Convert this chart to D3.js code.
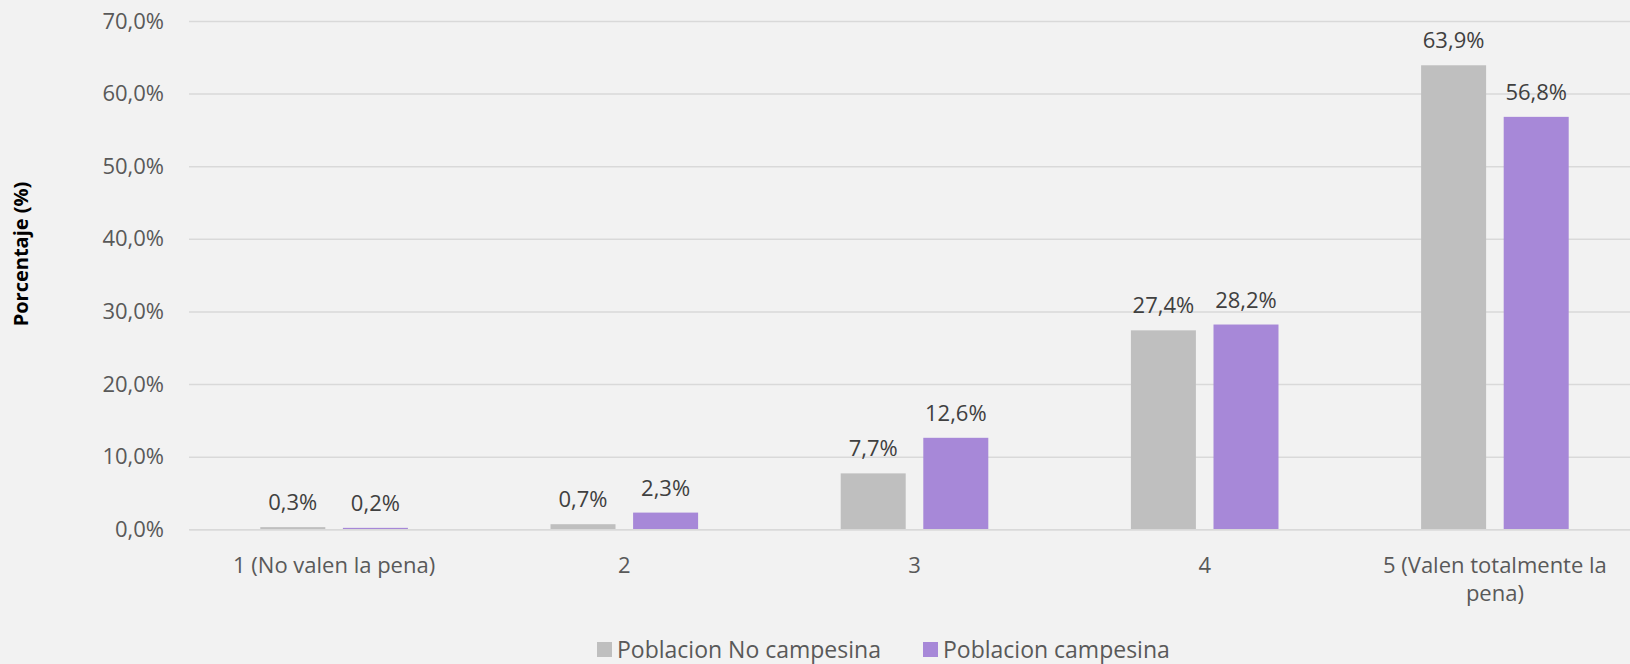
<!DOCTYPE html>
<html><head><meta charset="utf-8">
<script src="https://cdn.jsdelivr.net/npm/d3@7"></script>
<style>
html,body{margin:0;padding:0;background:#f2f2f2;}
svg{display:block;}
text{font-family:"Segoe UI","Open Sans","Noto Sans",sans-serif;}
</style></head>
<body>
<svg id="chart" width="1630" height="664"></svg>
<script>
const categories = ["1 (No valen la pena)", "2", "3", "4", "5 (Valen totalmente la pena)"];
const seriesNames = ["Poblacion No campesina", "Poblacion campesina"];
const noCampesina = [0.3, 0.7, 7.7, 27.4, 63.9];
const campesina = [0.2, 2.3, 12.6, 28.2, 56.8];
const yTicks = [0, 10, 20, 30, 40, 50, 60, 70];
const yTitle = "Porcentaje (%)";
const colors = ["#bfbfbf", "#a788d8"];

(function(){
const fmt = v => d3.format(".1f")(v).replace(".", ",") + "%";

const svg = d3.select("#chart");
svg.append("rect").attr("width",1630).attr("height",664).attr("fill","#f2f2f2");

const pLeft = 189, pRight = 1640, pTop = 21, pBottom = 529.3;
const x0 = d3.scaleBand().domain(categories).range([pLeft, pRight]).padding(0);
const step = x0.bandwidth();
const x1 = d3.scaleBand().domain(seriesNames).range([71.3, step - 71.3]).paddingInner(0.213).paddingOuter(0);
const y = d3.scaleLinear().domain([0, 70]).range([pBottom, pTop]);

const yAxis = d3.axisLeft(y).tickValues(yTicks).tickSize(-(pRight-pLeft)).tickFormat(fmt).tickPadding(25);
const gy = svg.append("g").attr("transform", `translate(${pLeft},0)`).call(yAxis);
gy.select(".domain").remove();
gy.selectAll(".tick line").attr("stroke", "#d9d9d9").attr("stroke-width", 1.5);
gy.selectAll(".tick text").attr("fill", "#595959").style("font-size", "22px")
  .attr("font-family", '"Segoe UI","Open Sans","Noto Sans",sans-serif');

const data = categories.map((c, i) => ({cat: c, vals: [
  {name: seriesNames[0], v: noCampesina[i], color: colors[0]},
  {name: seriesNames[1], v: campesina[i], color: colors[1]}
]}));

const groups = svg.append("g").selectAll("g").data(data).join("g")
  .attr("transform", d => `translate(${x0(d.cat)},0)`);
groups.selectAll("rect").data(d => d.vals).join("rect")
  .attr("x", d => x1(d.name)).attr("width", x1.bandwidth())
  .attr("y", d => y(d.v)).attr("height", d => y(0) - y(d.v))
  .attr("fill", d => d.color);
groups.selectAll("text").data(d => d.vals).join("text")
  .attr("x", d => x1(d.name) + x1.bandwidth()/2)
  .attr("y", d => y(d.v) - 17)
  .attr("text-anchor", "middle")
  .attr("fill", "#404040").style("font-size", "22px")
  .text(d => fmt(d.v));

const xAxis = d3.axisBottom(x0).tickSize(0).tickPadding(0);
const gx = svg.append("g").attr("transform", `translate(0,${pBottom})`).call(xAxis);
gx.select(".domain").attr("stroke", "#d9d9d9").attr("stroke-width", 1.5);
gx.selectAll(".tick text").attr("fill", "#595959").style("font-size", "22px")
  .attr("font-family", '"Segoe UI","Open Sans","Noto Sans",sans-serif')
  .attr("dy", null).attr("y", 44)
  .each(function(d) {
    const t = d3.select(this);
    const words = d.split(" ");
    t.text(null);
    let line = [];
    let tspan = t.append("tspan").attr("x", 0).attr("dy", 0);
    for (const w of words) {
      line.push(w);
      tspan.text(line.join(" "));
      if (tspan.node().getComputedTextLength() > step - 30 && line.length > 1) {
        line.pop(); tspan.text(line.join(" "));
        line = [w];
        tspan = t.append("tspan").attr("x", 0).attr("dy", "28px").text(w);
      }
    }
  });

svg.append("text").attr("transform", `translate(28,254) rotate(-90)`)
  .attr("text-anchor", "middle").attr("fill", "#000").style("font-size", "20px").style("font-weight", "bold")
  .text(yTitle);

const legItems = [{name: seriesNames[0], color: colors[0], x: 597}, {name: seriesNames[1], color: colors[1], x: 923}];
const lg = svg.append("g").selectAll("g").data(legItems).join("g").attr("transform", d => `translate(${d.x},0)`);
lg.append("rect").attr("x", 0).attr("y", 642).attr("width", 15).attr("height", 15).attr("fill", d => d.color);
lg.append("text").attr("x", 20).attr("y", 658).attr("fill", "#595959").style("font-size", "23px").text(d => d.name);
})();
</script>
</body></html>
